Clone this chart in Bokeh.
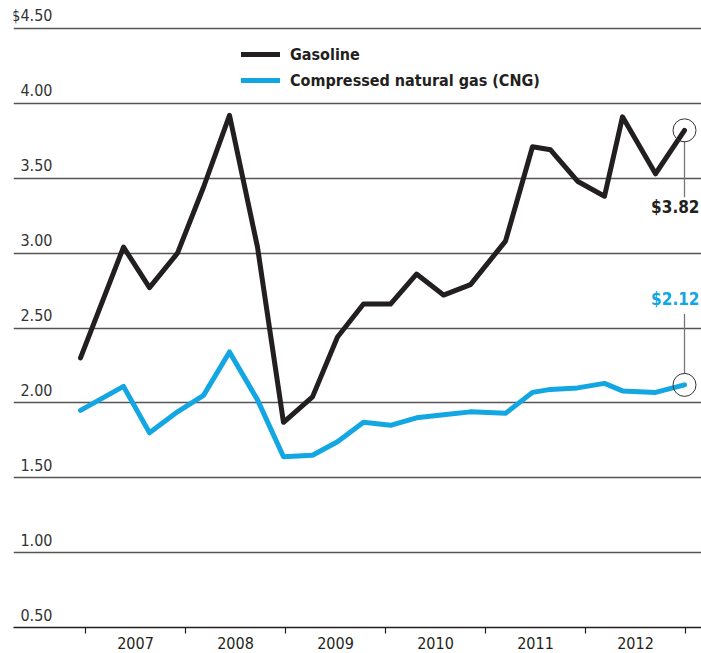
from bokeh.plotting import figure
from bokeh.models import Range1d, FixedTicker, Legend, LegendItem, Label
from bokeh.core.properties import value
from bokeh.embed import file_html
from bokeh.resources import INLINE

# ---- data ----
dates = [2006.95, 2007.38, 2007.64, 2007.92, 2008.18, 2008.44, 2008.72, 2008.98,
         2009.27, 2009.52, 2009.78, 2010.05, 2010.31, 2010.58, 2010.85, 2011.20,
         2011.47, 2011.65, 2011.92, 2012.19, 2012.37, 2012.70, 2012.99]
gasoline = [2.30, 3.04, 2.77, 3.00, 3.44, 3.92, 3.04, 1.87,
            2.04, 2.44, 2.66, 2.66, 2.86, 2.72, 2.79, 3.08,
            3.71, 3.69, 3.48, 3.38, 3.91, 3.53, 3.82]
cng = [1.95, 2.11, 1.80, 1.94, 2.05, 2.34, 2.02, 1.64,
       1.65, 1.74, 1.87, 1.85, 1.90, 1.92, 1.94, 1.93,
       2.07, 2.09, 2.10, 2.13, 2.08, 2.07, 2.12]
y_ticks = [0.5, 1.0, 1.5, 2.0, 2.5, 3.0, 3.5, 4.0, 4.5]
y_tick_labels = ["0.50", "1.00", "1.50", "2.00", "2.50", "3.00", "3.50", "4.00", "$4.50"]
year_bounds = [2007, 2008, 2009, 2010, 2011, 2012, 2013]
year_centers = [2007.5, 2008.5, 2009.5, 2010.5, 2011.5, 2012.5]
year_labels = ["2007", "2008", "2009", "2010", "2011", "2012"]
series_names = ["Gasoline", "Compressed natural gas (CNG)"]
end_labels = ["$3.82", "$2.12"]

# ---- styles ----
FONT = "'DejaVu Sans Condensed', 'Open Sans', sans-serif"
BLACK = "#231f20"
BLUE = "#12a6e2"
GRID = "#555555"
W, H = 701, 653
FRAME_H = 627
PX = 4.0 / (FRAME_H - 28)   # dollars per pixel

p = figure(width=W, height=H, output_backend="svg", toolbar_location=None,
           x_range=Range1d(2006.28, 2013.16),
           y_range=Range1d(0.5, 0.5 + FRAME_H * PX),
           min_border_left=13, min_border_right=0, min_border_top=0,
           min_border_bottom=H - FRAME_H)
p.outline_line_color = None
p.yaxis.visible = False
p.xgrid.visible = False
p.ygrid.ticker = FixedTicker(ticks=y_ticks[1:])
p.ygrid.grid_line_color = GRID
p.ygrid.grid_line_width = 1.3

ax = p.xaxis[0]
ax.ticker = FixedTicker(ticks=year_centers, minor_ticks=year_bounds)
ax.major_label_overrides = {c: l for c, l in zip(year_centers, year_labels)}
ax.major_tick_out = 0
ax.major_tick_in = 0
ax.minor_tick_out = 6
ax.minor_tick_in = 0
ax.minor_tick_line_color = BLACK
ax.minor_tick_line_width = 1.2
ax.axis_line_color = BLACK
ax.axis_line_width = 1.5
ax.major_label_text_font = FONT
ax.major_label_text_font_size = "16px"
ax.major_label_text_color = BLACK
ax.major_label_standoff = 3

# y tick labels drawn inside the frame, above each gridline
p.text(x=[2006.28] * len(y_ticks), y=y_ticks, text=y_tick_labels,
       x_offset=39, y_offset=-13, text_align="right", text_baseline="alphabetic",
       text_font=value(FONT), text_font_size="16px", text_color="#333333")

r_gas = p.line(dates, gasoline, line_width=5, color=BLACK,
               line_join="round", line_cap="round")
r_cng = p.line(dates, cng, line_width=5, color=BLUE,
               line_join="round", line_cap="round")

# end markers and connectors
p.segment(x0=[dates[-1]], y0=[gasoline[-1] - 11 * PX], x1=[dates[-1]], y1=[gasoline[-1] - 67 * PX],
          line_color="#777777", line_width=1.3)
p.segment(x0=[dates[-1]], y0=[cng[-1] + 11 * PX], x1=[dates[-1]], y1=[cng[-1] + 71 * PX],
          line_color="#777777", line_width=1.3)
p.scatter(x=[dates[-1], dates[-1]], y=[gasoline[-1], cng[-1]], marker="circle", size=23,
          fill_color=None, line_color="#333333", line_width=1)

p.add_layout(Label(x=dates[-1], y=gasoline[-1], x_offset=15, y_offset=-77, text=end_labels[0],
                   text_font=FONT, text_font_style="bold", text_font_size="17px",
                   text_color=BLACK, text_baseline="alphabetic", text_align="right"))
p.add_layout(Label(x=dates[-1], y=cng[-1], x_offset=15, y_offset=86, text=end_labels[1],
                   text_font=FONT, text_font_style="bold", text_font_size="17px",
                   text_color=BLUE, text_baseline="alphabetic", text_align="right"))

legend = Legend(items=[LegendItem(label=series_names[0], renderers=[r_gas]),
                       LegendItem(label=series_names[1], renderers=[r_cng])],
                location=(228, FRAME_H - 44 - 46), orientation="vertical",
                glyph_width=39, glyph_height=20, label_height=20, label_standoff=10,
                spacing=6, padding=0, margin=0, border_line_color=None,
                background_fill_alpha=0, label_text_font=FONT,
                label_text_font_style="bold", label_text_font_size="16px",
                label_text_color=BLACK)
p.add_layout(legend)

open("out.html", "w").write(file_html(p, INLINE))
